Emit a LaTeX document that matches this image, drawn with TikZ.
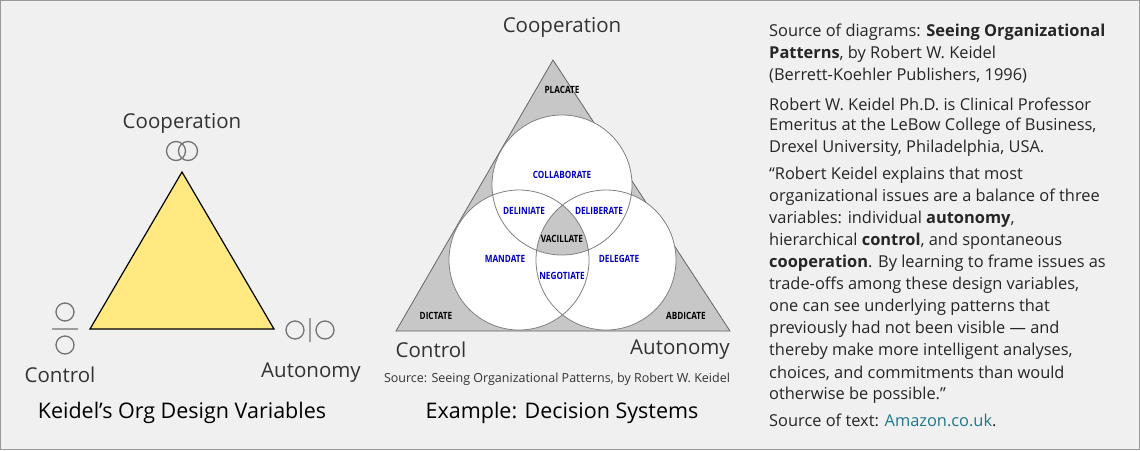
\documentclass[tikz,border=0pt]{standalone}
\usepackage{fontspec}
\setmainfont{Open Sans}
\usepackage{graphicx}
\definecolor{ylw}{RGB}{255,233,128}
\definecolor{lnk}{RGB}{30,120,140}
\begin{document}
\begin{tikzpicture}[x=1pt,y=-1pt,
  sym/.style={draw=black!55,line width=1.3pt},
  big/.style={font=\fontsize{20.5}{22}\selectfont,text=black!80},
  ttl/.style={font=\fontsize{21.5}{23}\selectfont,text=black},
  vl/.style={font=\fontsize{10}{11}\selectfont\bfseries,inner sep=0pt},
  blu/.style={vl,text=blue!75!black},
  body/.style={anchor=west,font=\fontsize{16.4}{18}\selectfont,text=black!85,inner sep=0pt}]
\path[fill=black!6,draw=black!40] (0.5,0.5) rectangle (1139.5,449.5);
\useasboundingbox (0,0) rectangle (1140,450);
% left triangle
\coordinate (la) at (182,172); \coordinate (lb) at (90,329); \coordinate (lc) at (274,329);
\draw[fill=ylw,line width=1.2pt,line join=miter] (la)--(lb)--(lc)--cycle;
\draw[sym] (176,151) circle (9.5) (188,151) circle (9.5);
\draw[sym] (65,312) circle (9) (65,345) circle (9) (52,329)--(78,329);
\draw[sym] (295,330) circle (9) (325,330) circle (9) (310,318)--(310,342);
\node[big] (c1) at (182,123) {Cooperation};
\node[big] (k1) at (60,375) {Control};
\node[big] (a1) at (311,373) {Autonomy};
\node[ttl] (t1) at (182,413) {Keidel’s Org Design Variables};
% right triangle
\coordinate (ra) at (553,60); \coordinate (rb) at (396,331); \coordinate (rc) at (730,331);
\draw[fill=black!22,draw=black!60,line width=0.8pt] (ra)--(rb)--(rc)--cycle;
\coordinate (ct) at (562,185); \coordinate (cl) at (519,260); \coordinate (cr) at (606,260);
\fill[white] (ct) circle (70) (cl) circle (70) (cr) circle (70);
\begin{scope}\clip (ct) circle (70); \clip (cl) circle (70); \fill[black!22] (cr) circle (70);\end{scope}
\draw[black!50,line width=0.8pt] (ct) circle (70) (cl) circle (70) (cr) circle (70);
\node[vl] (p1) at (562,90) {\scalebox{0.82}[1]{PLACATE}};
\node[blu] (p2) at (562,175) {\scalebox{0.82}[1]{COLLABORATE}};
\node[blu] (p3) at (524,211) {\scalebox{0.82}[1]{DELINIATE}};
\node[blu] (p4) at (599,211) {\scalebox{0.82}[1]{DELIBERATE}};
\node[vl] (p5) at (562,239) {\scalebox{0.82}[1]{VACILLATE}};
\node[blu] (p6) at (505,259) {\scalebox{0.82}[1]{MANDATE}};
\node[blu] (p7) at (619,259) {\scalebox{0.82}[1]{DELEGATE}};
\node[blu] (p8) at (562,276) {\scalebox{0.82}[1]{NEGOTIATE}};
\node[vl] (p9) at (436,316) {\scalebox{0.82}[1]{DICTATE}};
\node[vl] (p10) at (686,316) {\scalebox{0.82}[1]{ABDICATE}};
\node[big] (c2) at (562,27) {Cooperation};
\node[big] (k2) at (431,350) {Control};
\node[big] (a2) at (680,350) {Autonomy};
\node[font=\fontsize{12.5}{14}\selectfont,text=black!80] (s2) at (557,379) {Source: Seeing Organizational Patterns, by Robert W. Keidel};
\node[ttl] (t2) at (562,413) {Example: Decision Systems};
% text
\node[body] (b1) at (769,32) {Source of diagrams: \textbf{Seeing Organizational}};
\node[body] (b2) at (769,54) {\textbf{Patterns}, by Robert W. Keidel};
\node[body] (b3) at (769,76) {(Berrett-Koehler Publishers, 1996)};
\node[body] (b4) at (769,104) {Robert W. Keidel Ph.D. is Clinical Professor};
\node[body] (b5) at (769,126) {Emeritus at the LeBow College of Business,};
\node[body] (b6) at (769,148) {Drexel University, Philadelphia, USA.};
\node[body] (b7) at (769,175) {“Robert Keidel explains that most};
\node[body] (b8) at (769,197) {organizational issues are a balance of three};
\node[body] (b9) at (769,219) {variables: individual \textbf{autonomy},};
\node[body] (b10) at (769,241) {hierarchical \textbf{control}, and spontaneous};
\node[body] (b11) at (769,263) {\textbf{cooperation}. By learning to frame issues as};
\node[body] (b12) at (769,285) {trade-offs among these design variables,};
\node[body] (b13) at (769,307) {one can see underlying patterns that};
\node[body] (b14) at (769,329) {previously had not been visible — and};
\node[body] (b15) at (769,351) {thereby make more intelligent analyses,};
\node[body] (b16) at (769,373) {choices, and commitments than would};
\node[body] (b17) at (769,395) {otherwise be possible.”};
\node[body] (b18) at (769,420) {Source of text: \textcolor{lnk}{Amazon.co.uk}.};
\end{tikzpicture}
\end{document}
